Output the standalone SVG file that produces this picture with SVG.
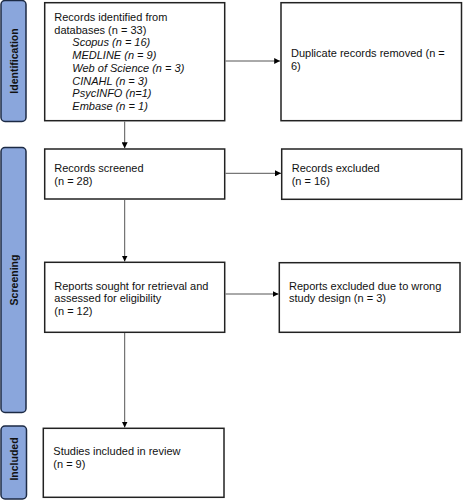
<svg xmlns="http://www.w3.org/2000/svg" width="463" height="500" viewBox="0 0 463 500">
<defs>
<marker id="ah" viewBox="0 0 10 10" refX="10" refY="5" markerWidth="6" markerHeight="6" markerUnits="userSpaceOnUse" orient="auto">
<path d="M0,0 L10,5 L0,10 z" fill="#000"/>
</marker>
</defs>
<style>
.bar{fill:#8aa6dc;stroke:#1c2a44;stroke-width:1.5}
.barlbl{font-family:"Liberation Sans",Arial,sans-serif;font-size:10.5px;font-weight:bold;fill:#111;text-anchor:middle}
.box{fill:#fff;stroke:#222;stroke-width:1.5}
.t{font-family:"Liberation Sans",Arial,sans-serif;font-size:11px;fill:#111}
.it{font-style:italic}
.con{stroke:#555;stroke-width:1;fill:none;marker-end:url(#ah)}
</style>
<rect width="463" height="500" fill="#fff"/>
<g id="phase-identification">
<rect class="bar" x="1" y="0.5" width="25" height="121" rx="4"/>
<text class="barlbl" transform="translate(17.5,61) rotate(-90)">Identification</text>
</g>
<g id="phase-screening">
<rect class="bar" x="1" y="147.5" width="25" height="265" rx="4"/>
<text class="barlbl" transform="translate(17.5,280) rotate(-90)">Screening</text>
</g>
<g id="phase-included">
<rect class="bar" x="1" y="426" width="25.5" height="73" rx="4"/>
<text class="barlbl" transform="translate(17.5,459) rotate(-90)">Included</text>
</g>
<g id="identified">
<rect class="box" x="44.7" y="2.7" width="180" height="118"/>
<text class="t" x="54.3" y="21">Records identified from</text>
<text class="t" x="54.3" y="33.7">databases (n = 33)</text>
<text class="t it" x="72.3" y="46.4">Scopus (n = 16)</text>
<text class="t it" x="72.3" y="59.1">MEDLINE (n = 9)</text>
<text class="t it" x="72.3" y="71.8">Web of Science (n = 3)</text>
<text class="t it" x="72.3" y="84.5">CINAHL (n = 3)</text>
<text class="t it" x="72.3" y="97.2">PsycINFO (n=1)</text>
<text class="t it" x="72.3" y="109.9">Embase (n = 1)</text>
</g>
<g id="duplicates">
<rect class="box" x="281" y="2.7" width="180.5" height="118"/>
<text class="t" x="291" y="57">Duplicate records removed (n =</text>
<text class="t" x="291" y="69.5">6)</text>
</g>
<g id="screened">
<rect class="box" x="44.7" y="149" width="180" height="50"/>
<text class="t" x="54.3" y="171.5">Records screened</text>
<text class="t" x="54.3" y="184.5">(n = 28)</text>
</g>
<g id="excluded">
<rect class="box" x="281.7" y="149" width="180" height="50.3"/>
<text class="t" x="291.7" y="171.5">Records excluded</text>
<text class="t" x="291.7" y="184.5">(n = 16)</text>
</g>
<g id="sought">
<rect class="box" x="44.7" y="262.3" width="180" height="70"/>
<text class="t" x="54.3" y="289.5">Reports sought for retrieval and</text>
<text class="t" x="54.3" y="302">assessed for eligibility</text>
<text class="t" x="54.3" y="314.5">(n = 12)</text>
</g>
<g id="reports-excluded">
<rect class="box" x="279.3" y="262.7" width="180.7" height="69.6"/>
<text class="t" x="289" y="289.5">Reports excluded due to wrong</text>
<text class="t" x="289" y="302">study design (n = 3)</text>
</g>
<g id="included">
<rect class="box" x="43.3" y="428.3" width="180.7" height="69"/>
<text class="t" x="53.3" y="454.5">Studies included in review</text>
<text class="t" x="53.3" y="467.5">(n = 9)</text>
</g>
<g id="connectors">
<line class="con" x1="124.7" y1="121.5" x2="124.7" y2="148.3"/>
<line class="con" x1="225.5" y1="61" x2="280.2" y2="61"/>
<line class="con" x1="124.7" y1="199.8" x2="124.7" y2="261.5"/>
<line class="con" x1="225.5" y1="173.3" x2="281" y2="173.3"/>
<line class="con" x1="124.7" y1="333" x2="124.7" y2="427.5"/>
<line class="con" x1="225.5" y1="294" x2="278.6" y2="294"/>
</g>
</svg>
